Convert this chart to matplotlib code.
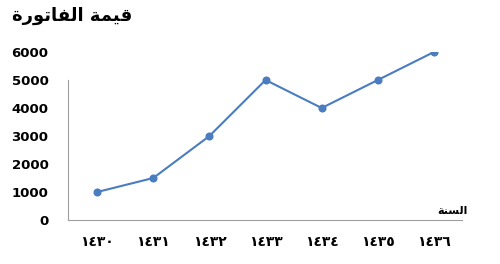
import matplotlib
matplotlib.use("Agg")
import matplotlib.pyplot as plt

years = ["١٤٣٠", "١٤٣١", "١٤٣٢", "١٤٣٣", "١٤٣٤", "١٤٣٥", "١٤٣٦"]
values = [1000, 1500, 3000, 5000, 4000, 5000, 6000]
yticks = [0, 1000, 2000, 3000, 4000, 5000, 6000]
# Arabic labels in visual (shaped, left-to-right) order
title_text = "\uFE93\uFEAD\uFEEE\uFE97\uFE8E\uFED4\uFEDF\uFE8D \uFE94\uFEE4\uFEF4\uFED7"  # قيمة الفاتورة
xlabel_text = "\uFE94\uFEE8\uFEB4\uFEDF\uFE8D"  # السنة

fig = plt.figure(figsize=(5, 2.64), dpi=100)
ax = fig.add_axes([0.136, 0.1667, 0.788, 0.6363])
x = list(range(len(years)))
ax.plot(x, values, color="#4A7CC0", lw=1.5, marker="o", markersize=4.8,
        markerfacecolor="#4A7CC0", markeredgecolor="#4A7CC0")
ax.set_xlim(-0.52, 6.5)
ax.set_ylim(0, 6000)
ax.set_yticks(yticks)
ax.set_yticklabels([str(v) for v in yticks], fontsize=9.5, fontweight="bold",
                   family="DejaVu Sans")
ax.set_xticks(x)
ax.set_xticklabels(years, fontsize=10, fontweight="bold", family="DejaVu Sans")
ax.tick_params(axis="both", length=0)
ax.tick_params(axis="y", pad=14)
ax.tick_params(axis="x", pad=11)
for s in ["top", "right"]:
    ax.spines[s].set_visible(False)
ax.spines["left"].set_color("#A0A0A0")
ax.spines["left"].set_linewidth(0.8)
ax.spines["left"].set_bounds(0, 5000)
ax.spines["bottom"].set_color("#A0A0A0")
ax.spines["bottom"].set_linewidth(0.8)

fig.text(0.024, 0.94, title_text, fontsize=13, fontweight="bold",
         family="DejaVu Sans", ha="left", va="center")
fig.text(0.936, 0.2, xlabel_text, fontsize=8, fontweight="bold",
         family="DejaVu Sans", ha="right", va="center")

fig.savefig("out.png", dpi=100)
